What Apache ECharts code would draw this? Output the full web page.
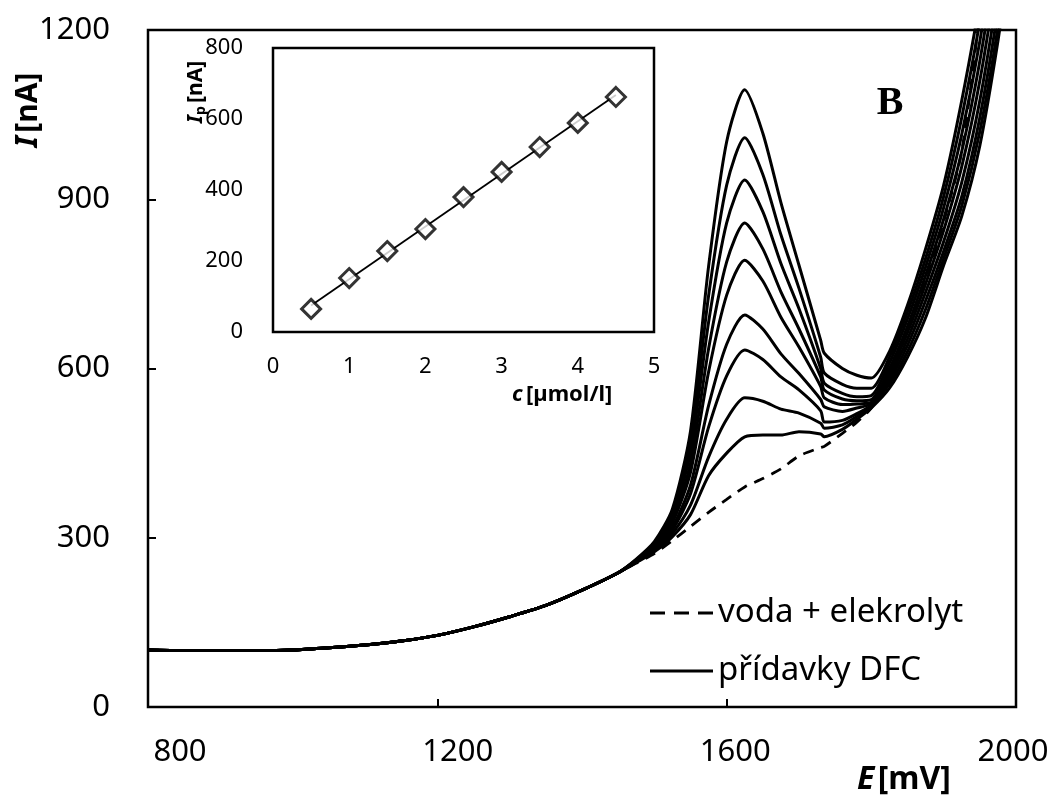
<!DOCTYPE html>
<html>
<head>
<meta charset="utf-8">
<script src="https://cdn.jsdelivr.net/npm/echarts@6/dist/echarts.min.js"></script>
<style>html,body{margin:0;padding:0;background:#fff}#c{width:1059px;height:803px}</style>
</head>
<body>
<div id="c"></div>
<script>
// ---- main chart data (E in mV, I in nA) ----
const E_low = [800, 850, 900, 950, 1000, 1050, 1100, 1150, 1200, 1250, 1300, 1350, 1400, 1450];
const I_low = [101, 100, 100, 100, 101, 105, 110, 117, 127, 142, 160, 180, 207, 238];
const E_high = [1475, 1500, 1525, 1550, 1575, 1600, 1625, 1650, 1675, 1700, 1730, 1735, 1760, 1780, 1800, 1825, 1850, 1875, 1900, 1925, 1950, 1975, 2000];
const I_blank = [255, 272, 295, 320, 345, 368, 390, 405, 422, 445, 460, 462, 485, 505, 530, 590, 665, 755, 860, 985, 1230, 1500, 1800];
const I_add1 = [256, 275, 302, 341, 410, 450, 479, 482, 482, 488, 484, 479, 492, 510, 530, 565, 620, 690, 783, 870, 995, 1180, 1400];
const I_add2 = [257, 277, 308, 358, 443, 510, 548, 542, 528, 521, 503, 494, 500, 515, 533, 572, 630, 705, 795, 888, 1020, 1205, 1440];
const I_add3 = [257, 279, 314, 378, 496, 587, 633, 616, 585, 562, 525, 505, 508, 520, 535, 578, 641, 720, 808, 905, 1045, 1235, 1470];
const I_add4 = [258, 281, 319, 393, 534, 643, 695, 670, 626, 591, 545, 532, 524, 530, 538, 585, 652, 735, 825, 930, 1075, 1270, 1500];
const I_add5 = [259, 284, 327, 416, 594, 730, 792, 755, 691, 638, 568, 548, 536, 537, 540, 592, 664, 750, 845, 958, 1110, 1310, 1540];
const I_add6 = [260, 286, 332, 432, 635, 789, 858, 812, 736, 670, 585, 562, 546, 543, 545, 600, 675, 765, 865, 985, 1145, 1350, 1580];
const I_add7 = [260, 288, 339, 451, 682, 858, 934, 878, 786, 706, 600, 574, 556, 550, 552, 610, 688, 780, 885, 1015, 1180, 1390, 1620];
const I_add8 = [261, 291, 345, 469, 729, 925, 1009, 944, 837, 742, 620, 592, 572, 565, 565, 620, 700, 795, 905, 1045, 1215, 1420, 1650];
const I_add9 = [262, 293, 351, 489, 781, 1002, 1094, 1017, 894, 783, 650, 627, 600, 588, 583, 630, 712, 812, 925, 1075, 1250, 1450, 1700];
const xTicks = [800, 1200, 1600, 2000];
const yTicks = [0, 300, 600, 900, 1200];

// ---- inset data ----
const c_umol = [0.5, 1.0, 1.5, 2.0, 2.5, 3.0, 3.5, 4.0, 4.5];
const Ip_nA = [65, 152, 228, 290, 380, 451, 521, 589, 662];

const LEG_BLANK = 'voda + elekrolyt';
const LEG_ADD = 'přídavky DFC';
const FONT = '"Noto Sans", "Open Sans", sans-serif';
const plain = v => String(v);

function curve(high) {
  const pts = E_low.map((e, i) => [e, I_low[i]]);
  return pts.concat(E_high.map((e, i) => [e, high[i]]));
}
// least-squares fit of inset points
function fitLine(xs, ys) {
  const n = xs.length;
  const mx = xs.reduce((a, b) => a + b, 0) / n;
  const my = ys.reduce((a, b) => a + b, 0) / n;
  let sxy = 0, sxx = 0;
  for (let i = 0; i < n; i++) { sxy += (xs[i] - mx) * (ys[i] - my); sxx += (xs[i] - mx) ** 2; }
  const k = sxy / sxx, q = my - k * mx;
  return [[xs[0], k * xs[0] + q], [xs[n - 1], k * xs[n - 1] + q]];
}

const adds = [I_add1, I_add2, I_add3, I_add4, I_add5, I_add6, I_add7, I_add8, I_add9];
const series = [];
series.push({
  name: LEG_BLANK, type: 'line', xAxisIndex: 0, yAxisIndex: 0,
  data: curve(I_blank), showSymbol: false, symbol: 'none', smooth: 0.25,
  lineStyle: { color: '#000', width: 2.8, type: [11, 8] }, itemStyle: { color: '#000' }, z: 3
});
adds.forEach(a => series.push({
  name: LEG_ADD, type: 'line', xAxisIndex: 0, yAxisIndex: 0,
  data: curve(a), showSymbol: false, symbol: 'none', smooth: 0.25,
  lineStyle: { color: '#000', width: 3 }, itemStyle: { color: '#000' }, z: 3
}));
series.push({
  type: 'line', xAxisIndex: 2, yAxisIndex: 2, data: fitLine(c_umol, Ip_nA),
  showSymbol: false, symbol: 'none', lineStyle: { color: '#000', width: 1.8 }, z: 5, silent: true
});
series.push({
  type: 'scatter', xAxisIndex: 2, yAxisIndex: 2,
  data: c_umol.map((c, i) => [c, Ip_nA[i]]),
  symbol: 'diamond', symbolSize: 19,
  itemStyle: { color: '#fff', borderColor: '#000', borderWidth: 3 }, z: 6
});

const chart = echarts.init(document.getElementById('c'), null, { renderer: 'canvas' });
chart.setOption({
  backgroundColor: '#fff',
  animation: false,
  textStyle: { fontFamily: FONT },
  grid: [
    { left: 148, right: 43, top: 30, bottom: 96, show: true, borderColor: '#000', borderWidth: 2.5, backgroundColor: 'transparent' },
    { left: 180, right: 46, top: 30, bottom: 96, show: false },
    { left: 273, right: 405, top: 48, bottom: 471, show: true, borderColor: '#000', borderWidth: 2.5, backgroundColor: '#fff', z: 4 }
  ],
  xAxis: [
    { type: 'value', gridIndex: 0, min: 800, max: 2000, interval: 400,
      axisLine: { show: false }, splitLine: { show: false },
      axisTick: { show: true, inside: true, length: 8, lineStyle: { color: '#000', width: 2 } },
      axisLabel: { show: false } },
    { type: 'value', gridIndex: 1, min: xTicks[0], max: xTicks[xTicks.length - 1], interval: 400,
      axisLine: { show: false }, splitLine: { show: false }, axisTick: { show: false },
      axisLabel: { show: true, color: '#000', fontSize: 31, margin: 30, fontFamily: FONT, formatter: plain } },
    { type: 'value', gridIndex: 2, min: 0, max: 5, interval: 1,
      axisLine: { show: false }, splitLine: { show: false },
      axisTick: { show: true, inside: true, length: 9, lineStyle: { color: '#000', width: 2 } },
      axisLabel: { show: true, color: '#000', fontSize: 22, margin: 24, fontFamily: FONT, formatter: plain } }
  ],
  yAxis: [
    { type: 'value', gridIndex: 0, min: yTicks[0], max: yTicks[yTicks.length - 1], interval: 300,
      axisLine: { show: false }, splitLine: { show: false },
      axisTick: { show: true, inside: true, length: 8, lineStyle: { color: '#000', width: 2 } },
      axisLabel: { show: true, color: '#000', fontSize: 31, margin: 38, fontFamily: FONT, formatter: plain } },
    { type: 'value', gridIndex: 1, show: false, min: 0, max: 1200 },
    { type: 'value', gridIndex: 2, min: 0, max: 800, interval: 200,
      axisLine: { show: false }, splitLine: { show: false }, axisTick: { show: false },
      axisLabel: { show: true, color: '#000', fontSize: 22, margin: 30, fontFamily: FONT, formatter: plain } }
  ],
  legend: {
    orient: 'vertical', left: 645, top: 588,
    itemWidth: 63, itemHeight: 3, itemGap: 18,
    data: [
      { name: LEG_BLANK, icon: 'path://M0,0h15v3h-15z M24,0h15v3h-15z M48,0h15v3h-15z' },
      { name: LEG_ADD, icon: 'path://M0,0h63v3h-63z' }
    ],
    itemStyle: { color: '#000', borderWidth: 0 },
    textStyle: { color: '#000', fontSize: 33, fontFamily: FONT, lineHeight: 40, padding: [0, 0, 0, 0] },
    selectedMode: false
  },
  graphic: [
    { type: 'text', left: 857, top: 764, z: 10,
      style: { text: '{i|E} {b|[mV]}', rich: {
        i: { fontFamily: FONT, fontSize: 32, fontWeight: 'bold', fontStyle: 'italic', fill: '#000' },
        b: { fontFamily: FONT, fontSize: 32, fontWeight: 'bold', fill: '#000' } } } },
    { type: 'text', x: 28, y: 110, rotation: Math.PI / 2, z: 10,
      style: { text: '{i|I} {b|[nA]}', align: 'center', verticalAlign: 'middle', rich: {
        i: { fontFamily: FONT, fontSize: 30, fontWeight: 'bold', fontStyle: 'italic', fill: '#000' },
        b: { fontFamily: FONT, fontSize: 30, fontWeight: 'bold', fill: '#000' } } } },
    { type: 'text', x: 196, y: 92, rotation: Math.PI / 2, z: 10,
      style: { text: '{i|I}{s|p} {b|[nA]}', align: 'center', verticalAlign: 'middle', rich: {
        i: { fontFamily: FONT, fontSize: 21, fontWeight: 'bold', fontStyle: 'italic', fill: '#000' },
        s: { fontFamily: FONT, fontSize: 14, fontWeight: 'bold', fill: '#000', padding: [10, 0, 0, 0] },
        b: { fontFamily: FONT, fontSize: 21, fontWeight: 'bold', fill: '#000' } } } },
    { type: 'text', left: 512, top: 384, z: 10,
      style: { text: '{i|c} {b|[µmol/l]}', rich: {
        i: { fontFamily: FONT, fontSize: 22, fontWeight: 'bold', fontStyle: 'italic', fill: '#000' },
        b: { fontFamily: FONT, fontSize: 22, fontWeight: 'bold', fill: '#000' } } } },
    { type: 'text', x: 890, y: 104, z: 10,
      style: { text: 'B', align: 'center', verticalAlign: 'middle', fill: '#000',
        font: 'bold 40px "Liberation Serif", "DejaVu Serif", serif' } }
  ],
  series: series
});
</script>
</body>
</html>
